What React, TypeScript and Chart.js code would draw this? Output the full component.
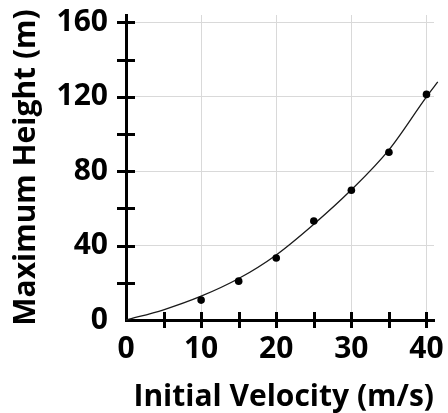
import { useEffect, useRef } from 'react';
import { Chart, registerables } from 'chart.js';

Chart.register(...registerables);

// Measured data points
const velocities = [10, 15, 20, 25, 30, 35, 40];
const heights = [10.7, 20.9, 33.3, 53.2, 69.8, 90.2, 121.3];

// Trend curve
const curveX = [0, 5, 10, 15, 20, 25, 30, 35, 40, 41.5];
const curveY = [0, 5.5, 12.8, 22.3, 35, 51.5, 70, 91.5, 120, 128];

// Labelled ticks
const xTickLabels = [0, 10, 20, 30, 40];
const yTickLabels = [0, 40, 80, 120, 160];

const FONT = "'Open Sans', 'DejaVu Sans', sans-serif";

const crossTicks = {
  id: 'crossTicks',
  afterDraw(chart: any) {
    const { ctx, scales } = chart;
    const x = scales.x;
    const y = scales.y;
    ctx.save();
    ctx.strokeStyle = '#000';
    ctx.lineWidth = 3;
    x.ticks.forEach((t: any) => {
      if (t.value === 0) return;
      const px = Math.round(x.getPixelForValue(t.value)) + 0.5;
      ctx.beginPath();
      ctx.moveTo(px, x.top - 8);
      ctx.lineTo(px, x.top + 8);
      ctx.stroke();
    });
    y.ticks.forEach((t: any) => {
      if (t.value === 0) return;
      const py = Math.round(y.getPixelForValue(t.value)) + 0.5;
      ctx.beginPath();
      ctx.moveTo(y.right - 9, py);
      ctx.lineTo(y.right + 9, py);
      ctx.stroke();
    });
    ctx.restore();
  },
};

export default function App() {
  const ref = useRef<HTMLCanvasElement | null>(null);

  useEffect(() => {
    if (!ref.current) return;
    const chart = new Chart(ref.current, {
      type: 'scatter',
      data: {
        datasets: [
          {
            type: 'line',
            data: curveX.map((v, i) => ({ x: v, y: curveY[i] })),
            borderColor: '#1a1a1a',
            borderWidth: 1.3,
            pointRadius: 0,
            fill: false,
            cubicInterpolationMode: 'monotone',
            clip: false as any,
            order: 2,
          } as any,
          {
            type: 'scatter',
            data: velocities.map((v, i) => ({ x: v, y: heights[i] })),
            backgroundColor: '#000',
            borderColor: '#000',
            pointRadius: 3.8,
            borderWidth: 0,
            order: 1,
          },
        ],
      },
      options: {
        responsive: false,
        animation: false,
        layout: { padding: { top: 15, right: 14, left: 0, bottom: 0 } },
        plugins: { legend: { display: false }, tooltip: { enabled: false } },
        scales: {
          x: {
            type: 'linear',
            min: 0,
            max: 41,
            afterFit: (s: any) => {
              s.height = 93;
              s.paddingLeft = 0;
              s.paddingRight = 0;
              s.paddingTop = 0;
              s.paddingBottom = 0;
            },
            ticks: {
              stepSize: 5,
              includeBounds: false,
              color: '#000',
              padding: 11,
              maxRotation: 0,
              autoSkip: false,
              font: { family: FONT, size: 30, weight: 'bold' },
              callback: (v: any) => (xTickLabels.includes(Number(v)) ? String(v) : ''),
            },
            grid: {
              drawTicks: false,
              lineWidth: 1,
              color: (c: any) =>
                c.tick && c.tick.value !== 0 && xTickLabels.includes(c.tick.value)
                  ? '#d9d9d9'
                  : 'rgba(0,0,0,0)',
            },
            border: { display: true, color: '#000', width: 3 },
            title: {
              display: true,
              align: 'end',
              text: 'Initial Velocity (m/s)',
              color: '#000',
              font: { family: FONT, size: 30, weight: 'bold' },
              padding: { top: 0, bottom: -2 },
            },
          },
          y: {
            type: 'linear',
            min: 0,
            max: 164,
            afterFit: (s: any) => {
              s.width = 126;
              s.paddingLeft = 0;
              s.paddingRight = 0;
              s.paddingTop = 0;
              s.paddingBottom = 0;
            },
            ticks: {
              stepSize: 20,
              includeBounds: false,
              color: '#000',
              padding: 18,
              autoSkip: false,
              font: { family: FONT, size: 30, weight: 'bold' },
              callback: (v: any) => (yTickLabels.includes(Number(v)) ? String(v) : ''),
            },
            grid: {
              drawTicks: false,
              lineWidth: 1,
              color: (c: any) =>
                c.tick && c.tick.value !== 0 && yTickLabels.includes(c.tick.value)
                  ? '#d9d9d9'
                  : 'rgba(0,0,0,0)',
            },
            border: { display: true, color: '#000', width: 3 },
            title: {
              display: true,
              text: 'Maximum Height (m)',
              color: '#000',
              font: { family: FONT, size: 30, weight: 'bold' },
              padding: { top: 8, bottom: 0 },
            },
          },
        },
      },
      plugins: [crossTicks],
    });
    return () => chart.destroy();
  }, []);

  return (
    <div style={{ position: 'fixed', left: 0, top: 0, width: 448, height: 413 }}>
      <canvas ref={ref} width={448} height={413} style={{ display: 'block' }} />
    </div>
  );
}
